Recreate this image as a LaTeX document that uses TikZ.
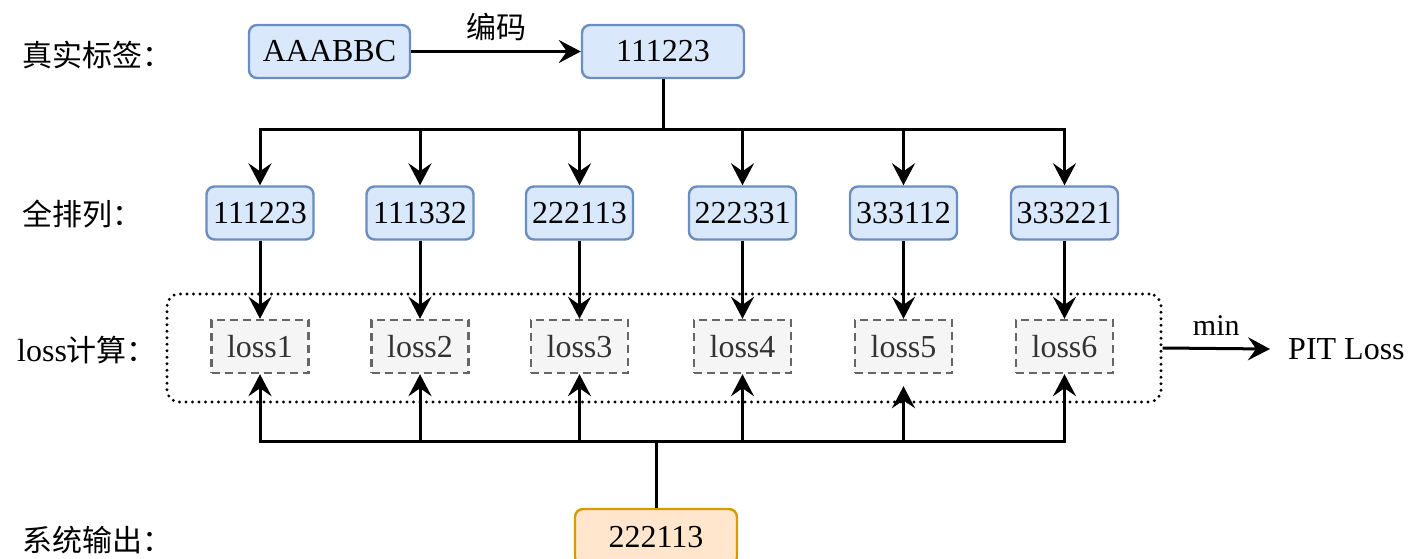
\documentclass[tikz,border=0pt]{standalone}
\usepackage{fontspec}
\setmainfont{Liberation Serif}
\newfontfamily\cjk{Noto Sans CJK SC}
\usetikzlibrary{arrows.meta,calc}
\definecolor{bluefill}{HTML}{DAE8FC}
\definecolor{bluedraw}{HTML}{6C8EBF}
\definecolor{orangefill}{HTML}{FFE6CC}
\definecolor{orangedraw}{HTML}{D79B00}
\definecolor{lossfill}{HTML}{F5F5F5}
\definecolor{lossdraw}{HTML}{666666}
\definecolor{losstext}{HTML}{333333}
\tikzset{
  bluebox/.style={draw=bluedraw, fill=bluefill, line width=2.4pt, rounded corners=8pt,
    minimum height=53pt, inner sep=0pt, font=\fontsize{32}{32}\selectfont},
  outbox/.style={draw=orangedraw, fill=orangefill, line width=2.4pt, rounded corners=8pt,
    minimum width=162pt, minimum height=56pt, inner sep=0pt, font=\fontsize{32}{32}\selectfont},
  lossbox/.style={draw=lossdraw, fill=lossfill, line width=2.4pt, dash pattern=on 8pt off 5pt,
    minimum width=97pt, minimum height=53pt, inner sep=0pt, text=losstext,
    font=\fontsize{32}{32}\selectfont},
  groupbox/.style={draw=black, line width=3.2pt, line cap=round, dash pattern=on 0pt off 6.5pt,
    rounded corners=12pt, minimum width=994pt, minimum height=108pt, inner sep=0pt},
  rowlabel/.style={anchor=west, inner sep=0pt, font=\fontsize{30}{30}\selectfont},
  conn/.style={line width=3pt},
  arr/.style={line width=3pt, -{Stealth[length=22pt,width=23pt,inset=8pt]}},
  plain/.style={inner sep=0pt, font=\fontsize{32}{32}\selectfont}
}
\begin{document}
\begin{tikzpicture}[x=1pt,y=-1pt]
\useasboundingbox (0,0) rectangle (1409,559);

% row labels
\node[rowlabel] (lab1) at (22,55) {\cjk 真实标签：};
\node[rowlabel] (lab2) at (22,214) {\cjk 全排列：};
\node[rowlabel] (lab3) at (17,350) {\fontsize{32}{32}\selectfont loss\cjk\fontsize{30}{30}\selectfont 计算：};
\node[rowlabel] (lab4) at (22,540) {\cjk 系统输出：};

% true labels and their encoding
\node[bluebox, minimum width=161pt] (src) at (329.5,51.5) {AAABBC};
\node[bluebox, minimum width=162pt] (enc) at (663,51.5) {111223};
\draw[arr] (src) -- node[plain, above=9pt] (enclab) {\cjk\fontsize{30}{30}\selectfont 编码} (enc);

% permutations
\foreach \i/\x/\t in {1/260/111223, 2/420/111332, 3/579.5/222113, 4/742.5/222331, 5/903.5/333112, 6/1064.5/333221}{
  \node[bluebox, minimum width=107pt] (p\i) at (\x,213) {\t};
  \node[lossbox] (l\i) at (\x,346.5) {loss\i};
}

% group of losses
\node[groupbox] (grp) at (664,348) {};

% system output
\node[outbox] (out) at (656,537) {222113};

% fan-out from the encoded label
\coordinate (split) at (663,130);
\draw[conn] (enc.south) -- (split);
\foreach \i in {1,...,6}{
  \draw[arr] (split) -| (p\i.north);
  \draw[arr] (p\i.south) -- (l\i.north);
}

% fan-in from the system output
\coordinate (merge) at (656,441);
\coordinate (l5end) at ($(l5.south)+(0,12)$);
\draw[conn] (out.north) -- (merge);
\foreach \i in {1,2,3,4,6}{
  \draw[arr] (merge) -| (l\i.south);
}
\draw[arr] (merge) -| (l5end);

% minimum over the losses
\node[plain, anchor=west] (pit) at (1288,349) {PIT Loss};
\draw[arr] (grp.east) -- node[plain, above=12pt, font=\fontsize{30}{30}\selectfont] (minlab) {min} ([xshift=-18pt]pit.west);
\end{tikzpicture}
\end{document}
